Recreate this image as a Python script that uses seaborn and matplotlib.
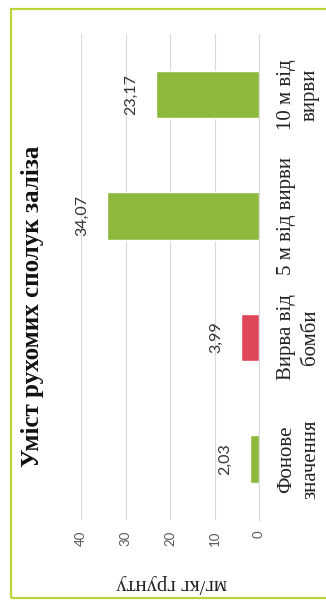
import pandas as pd
import matplotlib
matplotlib.use("Agg")
import matplotlib.pyplot as plt
import matplotlib.patches as patches
import seaborn as sns

# Data (top to bottom as shown in the rotated chart)
categories = ["10 м від\nвирви", "5 м від вирви", "Вирва від\nбомби", "Фонове\nзначення"]
values = [23.17, 34.07, 3.99, 2.03]
value_labels = ["23,17", "34,07", "3,99", "2,03"]
bar_colors = ["#8DB83B", "#8DB83B", "#E0465A", "#8DB83B"]
ticks = [0, 10, 20, 30, 40]

df = pd.DataFrame({"cat": categories, "val": values})

sns.set_theme(style="white")
plt.rcParams["font.family"] = ["Liberation Serif", "DejaVu Serif"]

fig = plt.figure(figsize=(3.26, 6.01), dpi=100)
ax = fig.add_axes([81 / 326, 1 - 519.75 / 601, 178 / 326, 486 / 601])

sns.barplot(data=df, y="cat", x="val", hue="cat", palette=bar_colors,
            legend=False, width=0.39, orient="h", ax=ax, saturation=1)

ax.set_xlim(40, 0)
ax.set_xticks(ticks)
ax.set_xticklabels([str(t) for t in ticks], rotation=90, fontsize=9.5,
                   color="#595959", family="Lato")
ax.xaxis.grid(True, color="#D9D9D9", linewidth=0.8)
ax.set_axisbelow(True)
ax.tick_params(axis="x", length=0, pad=8)

ax.yaxis.tick_right()
ax.tick_params(axis="y", length=0, pad=13)
for lab in ax.get_yticklabels():
    lab.set_rotation(90)
    lab.set_fontsize(15)
    lab.set_color("#222222")
    lab.set_va("center")
    lab.set_ha("left")
    lab.set_multialignment("center")
    lab.set_linespacing(1.35)

ax.set_xlabel("")
ax.set_ylabel("")
for s in ["top", "bottom", "left"]:
    ax.spines[s].set_visible(False)
ax.spines["right"].set_color("#D9D9D9")
ax.spines["right"].set_linewidth(0.8)

# value labels beyond bar ends
for i, (v, txt) in enumerate(zip(values, value_labels)):
    ax.annotate(txt, xy=(v, i), xytext=(-13, 0), textcoords="offset points",
                rotation=90, ha="right", va="center", fontsize=11.5,
                color="#333333", family="Lato")

fig.text(33 / 326, 1 - 306 / 601, "Уміст рухомих сполук заліза", rotation=90,
         fontsize=18, fontweight="bold", ha="center", va="center",
         color="#111111")
fig.text(172 / 326, 1 - 583 / 601, "мг/кг грунту", rotation=180,
         fontsize=15, ha="center", va="center", color="#222222")

fig.patches.append(patches.Rectangle((11 / 326, 3 / 601), 1.0, 1 - 12 / 601,
                                     transform=fig.transFigure, fill=False,
                                     edgecolor="#BCD43A", linewidth=1.6))

fig.savefig("out.png", dpi=100)
